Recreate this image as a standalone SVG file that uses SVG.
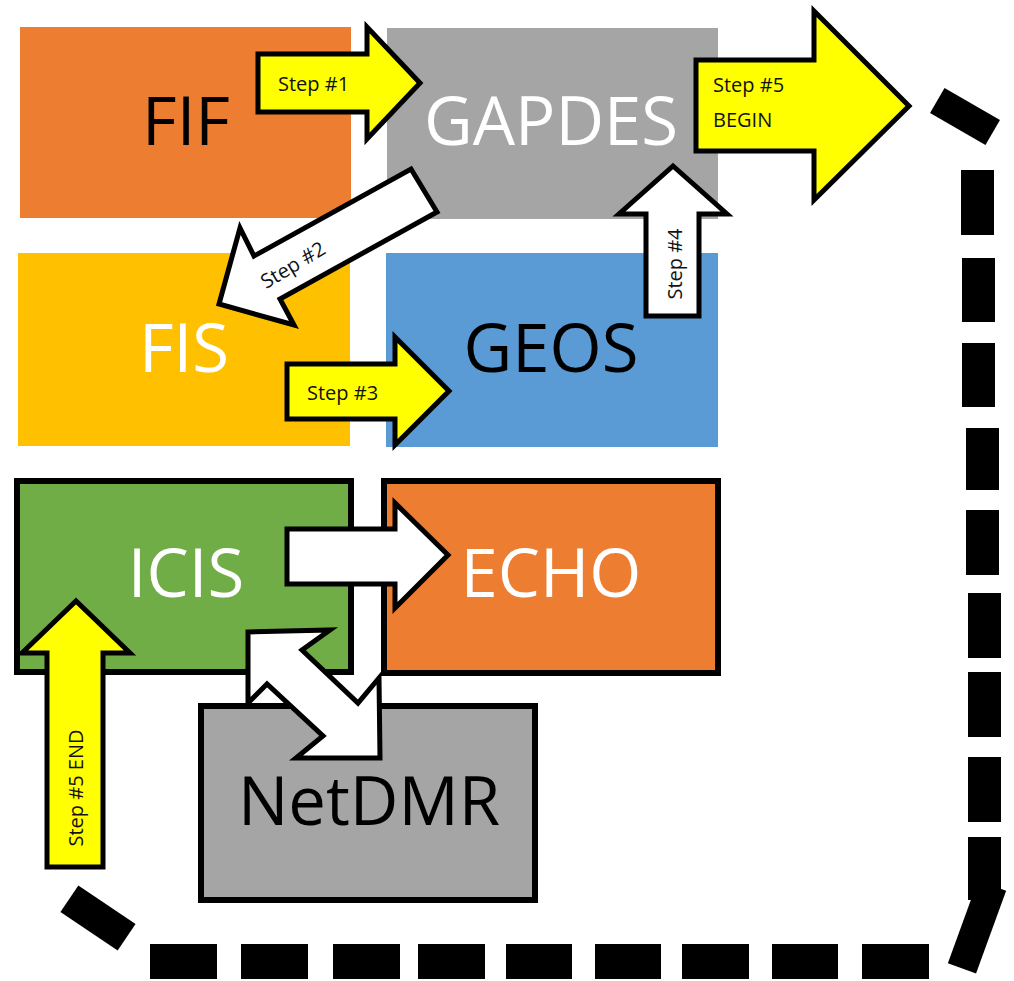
<svg xmlns="http://www.w3.org/2000/svg" width="1014" height="981" viewBox="0 0 1014 981">
<style>
.big{font-family:"Open Sans","Noto Sans",sans-serif;font-size:67px;text-anchor:middle}
.lbl{font-family:"Open Sans","Noto Sans",sans-serif;font-size:20px;fill:#111}
.ya{fill:#FFFF00;stroke:#000;stroke-width:5;stroke-linejoin:miter}
.wa{fill:#FFFFFF;stroke:#000;stroke-width:5;stroke-linejoin:miter}
.bx{stroke:#000;stroke-width:6}
.dash{fill:#000}
</style>
<rect width="1014" height="981" fill="#FFFFFF"/>
<g id="FIF"><rect x="20" y="27" width="331" height="191" fill="#ED7D31"/><text class="big" x="186" y="145" fill="#000">FIF</text></g>
<g id="GAPDES"><rect x="387" y="28" width="331" height="191" fill="#A5A5A5"/><text class="big" x="551" y="145" fill="#FFF">GAPDES</text></g>
<g id="FIS"><rect x="18" y="253" width="332" height="193" fill="#FFC000"/><text class="big" x="184" y="372" fill="#FFF">FIS</text></g>
<g id="GEOS"><rect x="386" y="253" width="332" height="194" fill="#5B9BD5"/><text class="big" x="551" y="372" fill="#000">GEOS</text></g>
<g id="ICIS"><rect class="bx" x="17" y="481" width="334" height="191" fill="#70AD47"/><text class="big" x="186" y="597" fill="#FFF">ICIS</text></g>
<g id="ECHO"><rect class="bx" x="384" y="481" width="334" height="192" fill="#ED7D31"/><text class="big" x="551" y="597" fill="#FFF">ECHO</text></g>
<g id="NetDMR"><rect class="bx" x="201" y="706" width="334" height="194" fill="#A5A5A5"/><text class="big" x="369" y="825" fill="#000">NetDMR</text></g>
<g id="connectors">
<polygon class="ya" points="258,54 367,54 367,27 420,83 367,139 367,112 258,112"/>
<text class="lbl" x="278" y="91">Step #1</text>
<polygon class="wa" points="411,169 437,212 280,299 294,325 219,304 240,228 254,256"/>
<text class="lbl" transform="translate(293,265) rotate(-31)" x="0" y="7" text-anchor="middle">Step #2</text>
<polygon class="ya" points="287,364 395,364 395,337 449,391 395,445 395,419 287,419"/>
<text class="lbl" x="307" y="400">Step #3</text>
<polygon class="wa" points="646,316 646,214 619,214 673,166 727,214 699,214 699,316"/>
<text class="lbl" transform="translate(675,264) rotate(-90)" x="0" y="7" text-anchor="middle">Step #4</text>
<polygon class="ya" points="696,60 814,60 814,11 909,106 814,200 814,151 696,151"/>
<text class="lbl" x="713" y="92">Step #5</text>
<text class="lbl" x="713" y="127">BEGIN</text>
<polygon class="wa" points="287,529 395,529 395,503 448,555 395,608 395,584 287,584"/>
<polygon class="wa" points="248,632 330,630 302,650 358,703 379,678 380,758 296,758 323,736 267,684 248,703"/>
<polygon class="ya" points="47,867 47,653 22,653 76,601 130,653 103,653 103,867"/>
<text class="lbl" transform="translate(76,788) rotate(-90)" x="0" y="7" text-anchor="middle">Step #5 END</text>
<g id="loop">
<rect class="dash" x="-32" y="-14.5" width="64" height="29" transform="translate(965,116.5) rotate(30)"/>
<rect class="dash" x="961" y="170" width="33" height="65"/>
<rect class="dash" x="962" y="258" width="33" height="64"/>
<rect class="dash" x="962" y="343" width="33" height="64"/>
<rect class="dash" x="966" y="428" width="33" height="62"/>
<rect class="dash" x="966" y="510" width="33" height="65"/>
<rect class="dash" x="968" y="593" width="33" height="65"/>
<rect class="dash" x="968" y="672" width="33" height="65"/>
<rect class="dash" x="968" y="757" width="33" height="65"/>
<rect class="dash" x="968" y="837" width="33" height="63"/>
<rect class="dash" x="-15" y="-44" width="30" height="88" transform="translate(977,927) rotate(20)"/>
<rect class="dash" x="862" y="944" width="67" height="35"/>
<rect class="dash" x="772" y="944" width="66" height="35"/>
<rect class="dash" x="682" y="944" width="67" height="35"/>
<rect class="dash" x="595" y="944" width="66" height="35"/>
<rect class="dash" x="506" y="944" width="66" height="35"/>
<rect class="dash" x="418" y="944" width="67" height="35"/>
<rect class="dash" x="333" y="944" width="67" height="35"/>
<rect class="dash" x="241" y="944" width="67" height="35"/>
<rect class="dash" x="150" y="944" width="67" height="35"/>
<rect class="dash" x="-34.5" y="-16" width="69" height="32" transform="translate(98,918) rotate(34)"/>
</g>
</g>
</svg>
